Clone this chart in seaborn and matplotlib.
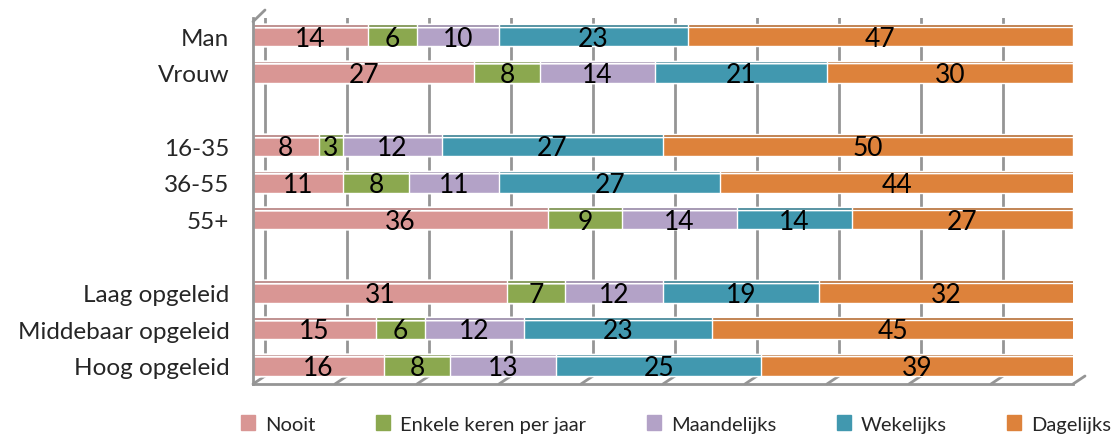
import numpy as np
import pandas as pd
import matplotlib
matplotlib.use("Agg")
import matplotlib.pyplot as plt
import matplotlib.transforms as mtransforms
from matplotlib.patches import ConnectionPatch, Patch
import seaborn as sns

# data (percentages)
groups = ["Man", "Vrouw", " ", "16-35", "36-55", "55+", "  ",
          "Laag opgeleid", "Middebaar opgeleid", "Hoog opgeleid"]
series = ["Nooit", "Enkele keren per jaar", "Maandelijks", "Wekelijks", "Dagelijks"]
nooit = [14, 27, 0, 8, 11, 36, 0, 31, 15, 16]
enkele = [6, 8, 0, 3, 8, 9, 0, 7, 6, 8]
maandelijks = [10, 14, 0, 12, 11, 14, 0, 12, 12, 13]
wekelijks = [23, 21, 0, 27, 27, 14, 0, 19, 23, 25]
dagelijks = [47, 30, 0, 50, 44, 27, 0, 32, 45, 39]
colors = ["#D99694", "#8BA84F", "#B3A2C7", "#4198AF", "#DD823B"]

df = pd.DataFrame({"groep": groups, "Nooit": nooit, "Enkele keren per jaar": enkele,
                   "Maandelijks": maandelijks, "Wekelijks": wekelijks,
                   "Dagelijks": dagelijks})
cum = df[series].cumsum(axis=1)
cum["groep"] = groups

sns.set_style("white")
plt.rcParams["font.family"] = ["Lato", "DejaVu Sans"]

fig = plt.figure(figsize=(11.16, 4.39), dpi=100)
ax = fig.add_axes([253 / 1116, 1 - 385 / 439, 820 / 1116, 366 / 439])

# back wall gridlines (shifted to fake the 3d look)
grid_c = "#959595"
off = mtransforms.ScaledTranslation(12 / 100, 8 / 100, fig.dpi_scale_trans)
ticks = np.arange(0, 101, 10)
ax.vlines(ticks, 0, 1.0, transform=ax.get_xaxis_transform() + off,
          color=grid_c, lw=2, zorder=0)
for t in ticks:
    con = ConnectionPatch(xyA=(t, 0), coordsA=ax.get_xaxis_transform(),
                          xyB=(t, 0), coordsB=ax.get_xaxis_transform() + off,
                          color=grid_c, lw=2)
    ax.add_artist(con)
con = ConnectionPatch(xyA=(0, 0.99), coordsA=ax.get_xaxis_transform(),
                      xyB=(0, 1.0), coordsB=ax.get_xaxis_transform() + off,
                      color=grid_c, lw=2)
ax.add_artist(con)

# stacked bars: draw cumulative totals from the back to the front
for s, c in reversed(list(zip(series, colors))):
    sns.barplot(data=cum, x=s, y="groep", order=groups, color=c, width=0.55,
                saturation=1, orient="h", ax=ax, zorder=2)

# darker top band for a bit of depth
for s, c in reversed(list(zip(series, colors))):
    dark = tuple(np.array(matplotlib.colors.to_rgb(c)) * 0.82)
    ax.barh(np.arange(len(groups)) - 0.295, cum[s], height=0.07, color=dark,
            zorder=2)

# value labels in the middle of each segment
for i, g in enumerate(groups):
    left = 0
    for s in series:
        v = df.loc[i, s]
        if v > 0:
            right = min(left + v, 100)
            ax.text((left + right) / 2, i + 0.05, str(v), ha="center",
                    va="center", fontsize=19, color="black", zorder=5)
        left += v

ax.set_xlim(0, 100)
ax.set_ylim(len(groups) - 0.5, -0.5)
ax.set_xlabel("")
ax.set_ylabel("")
ax.set_xticks(ticks)
ax.set_xticklabels([])
ax.tick_params(axis="x", direction="out", length=8, width=2, color=grid_c)
ax.set_yticks(range(len(groups)))
ax.set_yticklabels(groups, fontsize=17.5)
ax.tick_params(axis="y", length=0, pad=17)
ax.set_yticks(np.arange(-0.5, len(groups), 1), minor=True)
ax.tick_params(axis="y", which="minor", direction="out", length=8, width=2,
               color=grid_c)
for sp in ["top", "right"]:
    ax.spines[sp].set_visible(False)
for sp in ["left", "bottom"]:
    ax.spines[sp].set_color(grid_c)
    ax.spines[sp].set_linewidth(2)

handles = [Patch(color=c) for c in colors]
fig.legend(handles, series, loc="center", bbox_to_anchor=(0.606, 1 - 425 / 439),
           ncol=5, frameon=False, fontsize=14.5, handlelength=0.7,
           handleheight=0.7, columnspacing=3.0, handletextpad=0.5)

fig.savefig("out.png", dpi=100)
